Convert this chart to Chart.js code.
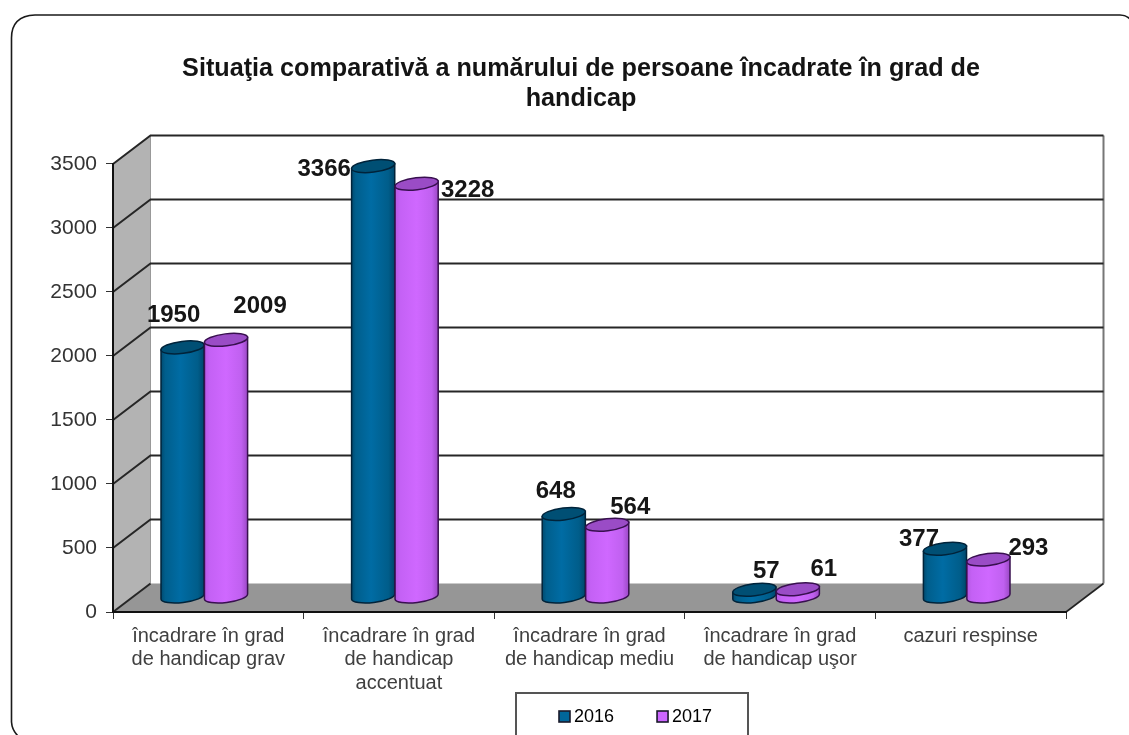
<!DOCTYPE html>
<html>
<head>
<meta charset="utf-8">
<style>html,body{margin:0;padding:0;background:#fff}canvas{display:block}</style>
<script src="https://cdn.jsdelivr.net/npm/chart.js@4"></script>
</head>
<body>
<canvas id="c" width="1129" height="735"></canvas>
<script>
const categories = [
  ["încadrare în grad","de handicap grav"],
  ["încadrare în grad","de handicap","accentuat"],
  ["încadrare în grad","de handicap mediu"],
  ["încadrare în grad","de handicap uşor"],
  ["cazuri respinse"]
];
const seriesNames = ["2016","2017"];
const values2016 = [1950,3366,648,57,377];
const values2017 = [2009,3228,564,61,293];
const titleLines = ["Situaţia comparativă a numărului de persoane încadrate în grad de","handicap"];

// hand-placed data label offsets from each cylinder's top centre
const labelNudge2016 = [[-9,-32],[-49,3],[-8,-23],[12,-18],[-26,-9]];
const labelNudge2017 = [[34,-33],[51,7],[23,-17],[26,-20],[40,-11]];

const DEPTH_X = 37.5, DEPTH_Y = -28.5;    // projected depth of the 3D box
const BAR_DX = -4, BAR_DY = -15;          // cylinders stand inside the floor
const TILT = -0.12, RY = 6;

const looks = [
  {stops:[[0,'#014a6e'],[.1,'#005e8c'],[.45,'#006ca4'],[.85,'#005d8a'],[1,'#00466a']], top:'#004f74', line:'#00233a', key:'#00669a'},
  {stops:[[0,'#b458e2'],[.12,'#c461f5'],[.5,'#cf68ff'],[.85,'#c060f0'],[1,'#9a48c4']], top:'#9a4cc6', line:'#38104f', key:'#cc66ff'}
];

const box3d = {
  id:'box3d',
  beforeDraw(chart){
    const {ctx, chartArea:a, scales:{y,x}} = chart;
    chart.titleBlock.left = 32; chart.titleBlock.right = 1130;
    chart.legend.left = 516; chart.legend.right = 820; chart.legend.top = 671;
    x.bottom = 735;   // let the three-line category label through the axis clip
    ctx.save();
    // outer rounded frame, cropped by the photo edge
    ctx.strokeStyle='#1a1a1a'; ctx.lineWidth=1.6;
    ctx.beginPath(); ctx.moveTo(1130,19); ctx.quadraticCurveTo(1126,15,1120,15);
    ctx.lineTo(35,15); ctx.quadraticCurveTo(11.5,16,11.5,38); ctx.lineTo(11.5,722);
    ctx.quadraticCurveTo(12,730,18,736); ctx.stroke();

    const L=a.left,R=a.right,T=a.top,B=a.bottom;
    // walls
    ctx.fillStyle='#b3b3b3';
    ctx.beginPath(); ctx.moveTo(L,B); ctx.lineTo(L+DEPTH_X,B+DEPTH_Y); ctx.lineTo(L+DEPTH_X,T+DEPTH_Y); ctx.lineTo(L,T); ctx.closePath(); ctx.fill();
    ctx.fillStyle='#969696';
    ctx.beginPath(); ctx.moveTo(L,B); ctx.lineTo(L+DEPTH_X,B+DEPTH_Y); ctx.lineTo(R+DEPTH_X,B+DEPTH_Y); ctx.lineTo(R,B); ctx.closePath(); ctx.fill();
    ctx.strokeStyle='#777'; ctx.lineWidth=2;
    ctx.beginPath(); ctx.moveTo(R+DEPTH_X,T+DEPTH_Y); ctx.lineTo(R+DEPTH_X,B+DEPTH_Y); ctx.stroke();
    ctx.strokeStyle='#999'; ctx.lineWidth=1;
    ctx.beginPath(); ctx.moveTo(L+DEPTH_X,T+DEPTH_Y); ctx.lineTo(L+DEPTH_X,B+DEPTH_Y); ctx.stroke();
    // gridlines bent round the box
    ctx.strokeStyle='#262626'; ctx.lineWidth=2;
    y.ticks.forEach(t=>{
      const py=y.getPixelForValue(t.value);
      ctx.beginPath(); ctx.moveTo(L,py); ctx.lineTo(L+DEPTH_X,py+DEPTH_Y);
      if(t.value>0) ctx.lineTo(R+DEPTH_X,py+DEPTH_Y);
      ctx.stroke();
    });
    ctx.strokeStyle='#222'; ctx.lineWidth=1.6;
    ctx.beginPath(); ctx.moveTo(R,B); ctx.lineTo(R+DEPTH_X,B+DEPTH_Y); ctx.stroke();
    // legend frame
    ctx.strokeStyle='#555'; ctx.lineWidth=2;
    ctx.beginPath(); ctx.moveTo(516,737); ctx.lineTo(516,693); ctx.lineTo(748,693); ctx.lineTo(748,737); ctx.stroke();
    ctx.restore();
  },
  afterDatasetsDraw(chart){
    const {ctx} = chart;
    ctx.save();
    chart.data.datasets.forEach((ds,di)=>{
      const look=looks[di];
      chart.getDatasetMeta(di).data.forEach(el=>{
        const cx=el.x+BAR_DX, top=el.y+BAR_DY, base=el.base+BAR_DY, rx=el.width/2;
        const ex=rx*Math.cos(TILT), ey=rx*Math.sin(TILT);
        const g=ctx.createLinearGradient(cx-rx,0,cx+rx,0);
        look.stops.forEach(s=>g.addColorStop(s[0],s[1]));
        ctx.beginPath();
        ctx.moveTo(cx+ex,top+ey);
        ctx.lineTo(cx+ex,base+ey);
        ctx.ellipse(cx,base,rx,RY,TILT,0,Math.PI);
        ctx.lineTo(cx-ex,top-ey);
        ctx.closePath();
        ctx.fillStyle=g; ctx.fill();
        ctx.lineWidth=1.5; ctx.strokeStyle=look.line; ctx.stroke();
        ctx.beginPath(); ctx.ellipse(cx,top,rx,RY,TILT,0,Math.PI*2);
        ctx.fillStyle=look.top; ctx.fill(); ctx.stroke();
      });
    });
    ctx.restore();
  },
  afterDraw(chart){
    const {ctx} = chart;
    ctx.save();
    // data labels
    ctx.font='bold 24px "Liberation Sans"'; ctx.fillStyle='#161616';
    ctx.textAlign='center'; ctx.textBaseline='middle';
    chart.data.datasets.forEach((ds,di)=>{
      const nudge = di===0?labelNudge2016:labelNudge2017;
      chart.getDatasetMeta(di).data.forEach((el,i)=>{
        ctx.fillText(String(ds.data[i]), el.x+BAR_DX+nudge[i][0], el.y+BAR_DY+nudge[i][1]);
      });
    });
    // legend keys sit closer to their text than the library's default gap
    ctx.font='18px "Liberation Sans"';
    let x=chart.legend.left+37;
    chart.legend.legendItems.forEach((it,i)=>{
      ctx.fillStyle=looks[i].key; ctx.strokeStyle='#1a1a2a'; ctx.lineWidth=1.6;
      ctx.fillRect(x+6,711,11,11); ctx.strokeRect(x+6,711,11,11);
      x+=12+9+ctx.measureText(it.text).width+37;
    });
    ctx.restore();
  }
};

new Chart(document.getElementById('c'),{
  type:'bar',
  data:{labels:categories,datasets:[
    {label:seriesNames[0],data:values2016,backgroundColor:'transparent'},
    {label:seriesNames[1],data:values2017,backgroundColor:'transparent'}
  ]},
  plugins:[box3d],
  options:{
    responsive:false,animation:false,
    layout:{padding:{left:0,right:63,top:0,bottom:0}},
    datasets:{bar:{categoryPercentage:0.456,barPercentage:1}},
    plugins:{
      tooltip:{enabled:false},
      title:{display:true,text:titleLines,color:'#141414',
        font:{family:'"Liberation Sans"',size:25.2,weight:'bold',lineHeight:1.19},
        padding:{top:54,bottom:50}},
      legend:{position:'bottom',align:'start',
        labels:{color:'#333',font:{family:'"Liberation Sans"',size:18},boxWidth:12,boxHeight:12,padding:37,
          generateLabels(chart){return chart.data.datasets.map((d,i)=>({text:d.label,fillStyle:'transparent',strokeStyle:'transparent',lineWidth:0,datasetIndex:i}));}}}
    },
    scales:{
      x:{
        afterFit(s){s.height=735-612-s.chart.legend.height;},
        grid:{drawOnChartArea:false,drawTicks:true,tickLength:7,color:'#333',offset:true},
        border:{color:'#111',width:2},
        ticks:{color:'#404040',font:{family:'"Liberation Sans"',size:20,lineHeight:1.16},padding:6,maxRotation:0,autoSkip:false}
      },
      y:{
        min:0,max:3500,
        afterFit(s){s.width=113;},
        grid:{drawOnChartArea:false,drawTicks:true,tickLength:7,color:'#333'},
        border:{color:'#111',width:2},
        ticks:{stepSize:500,color:'#333',font:{family:'"Liberation Sans"',size:21},padding:9,callback:v=>String(v)}
      }
    }
  }
});
</script>
</body>
</html>
